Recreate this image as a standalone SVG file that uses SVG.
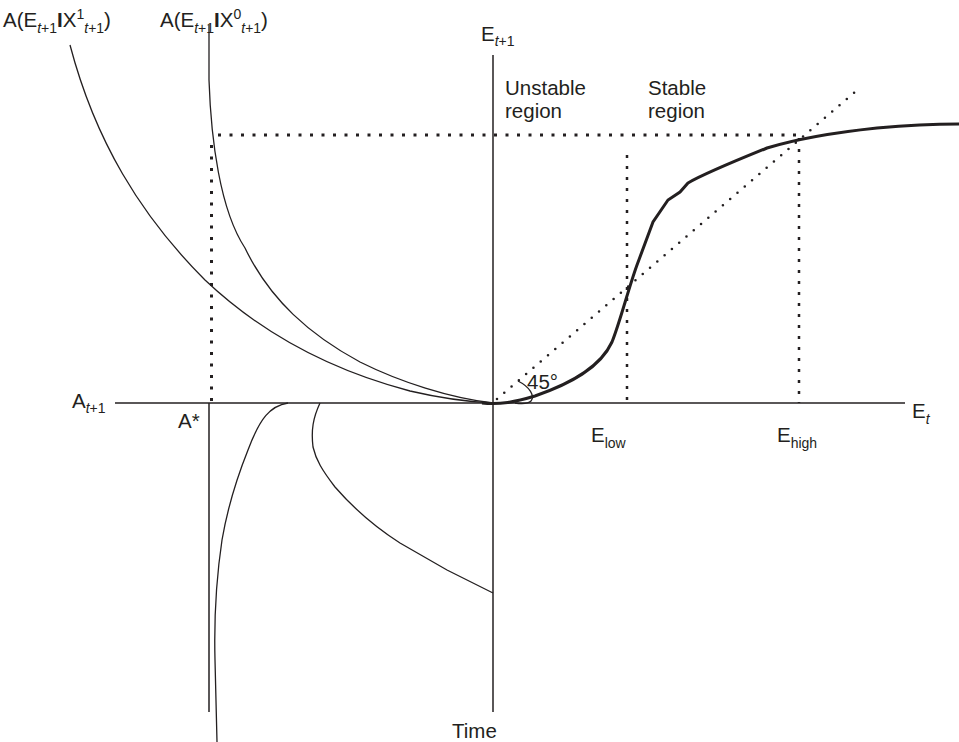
<svg xmlns="http://www.w3.org/2000/svg" width="959" height="742" viewBox="0 0 959 742">
<style>
text{font-family:"Liberation Sans",Arial,sans-serif;fill:#231f20;font-size:20.5px}
.sub{font-size:14px}
.thin{fill:none;stroke:#231f20;stroke-width:1.3}
.axis{fill:none;stroke:#231f20;stroke-width:1.5}
.thick{fill:none;stroke:#231f20;stroke-width:3}
.sq{fill:none;stroke:#231f20;stroke-width:3;stroke-dasharray:3 8.5}
.sqv{fill:none;stroke:#231f20;stroke-width:2.5;stroke-dasharray:3 8}
.rd{fill:none;stroke:#231f20;stroke-width:2.6;stroke-linecap:round;stroke-dasharray:0 9.6}
</style>
<rect width="959" height="742" fill="#fff"/>
<g id="connectors">
<line class="axis" x1="115" y1="403" x2="905" y2="403"/>
<line class="axis" x1="493" y1="55" x2="493" y2="712"/>
<line class="axis" x1="209" y1="403" x2="209" y2="712"/>
<line class="sq" x1="218" y1="135" x2="800" y2="135"/>
<line class="sq" x1="211.5" y1="145" x2="211.5" y2="403"/>
<line class="sqv" x1="627" y1="155" x2="627" y2="403"/>
<line class="sqv" x1="799" y1="138" x2="799" y2="403"/>
<line class="rd" x1="497" y1="399" x2="855" y2="92"/>
<path class="thin" d="M518,381 C530,387 535,396 531,401 C528,404 522,404 515,403"/>
<path class="thin" d="M70,45 C95,140 140,215 205,280 C260,332 330,370 410,391 C440,398 470,402 493,403"/>
<path class="thin" d="M209,25 L209,80 C211,140 220,210 245,248 C270,300 310,335 360,362 C400,382 450,398 493,403"/>
<path class="thin" d="M288,403 C270,406 260,418 248,450 C238,475 228,505 222,540 C216,580 214,620 215,660 L217,742"/>
<path class="thin" d="M320,403 C313,418 311,430 313,447 C316,460 322,470 335,487 C355,510 375,527 400,543 L447,570 L493,593"/>
<path class="thick" d="M482,403 C500,405 515,402 535,396 C570,384 600,368 612,342 C620,322 628,290 637,265 L653,222 L668,200 L680,192 L688,183 C700,176 730,163 767,148 C790,141 820,134 877,128 C910,125 940,124 959,124"/>
</g>
<g id="label-a1"><text x="3" y="27">A(E<tspan class="sub" dy="6" font-style="italic">t</tspan><tspan class="sub">+1</tspan><tspan dy="-6" font-weight="bold">I</tspan>X<tspan class="sub" dy="-8">1</tspan><tspan class="sub" dy="14" font-style="italic">t</tspan><tspan class="sub">+1</tspan><tspan dy="-6">)</tspan></text></g>
<g id="label-a0"><text x="160" y="27">A(E<tspan class="sub" dy="6" font-style="italic">t</tspan><tspan class="sub">+1</tspan><tspan dy="-6" font-weight="bold">I</tspan>X<tspan class="sub" dy="-8">0</tspan><tspan class="sub" dy="14" font-style="italic">t</tspan><tspan class="sub">+1</tspan><tspan dy="-6">)</tspan></text></g>
<g id="label-et1"><text x="481" y="41">E<tspan class="sub" dy="5" font-style="italic">t</tspan><tspan class="sub">+1</tspan></text></g>
<g id="label-unstable"><text x="505" y="95">Unstable</text><text x="505" y="118">region</text></g>
<g id="label-stable"><text x="648" y="95">Stable</text><text x="648" y="118">region</text></g>
<g id="label-at1"><text x="72" y="408">A<tspan class="sub" dy="5" font-style="italic">t</tspan><tspan class="sub">+1</tspan></text></g>
<g id="label-astar"><text x="178" y="428">A*</text></g>
<g id="label-45"><text x="527" y="389" font-size="19">45°</text></g>
<g id="label-elow"><text x="591" y="442">E<tspan class="sub" dy="6">low</tspan></text></g>
<g id="label-ehigh"><text x="777" y="442">E<tspan class="sub" dy="6">high</tspan></text></g>
<g id="label-et"><text x="912" y="418">E<tspan class="sub" dy="6" font-style="italic">t</tspan></text></g>
<g id="label-time"><text x="452" y="738">Time</text></g>
</svg>
